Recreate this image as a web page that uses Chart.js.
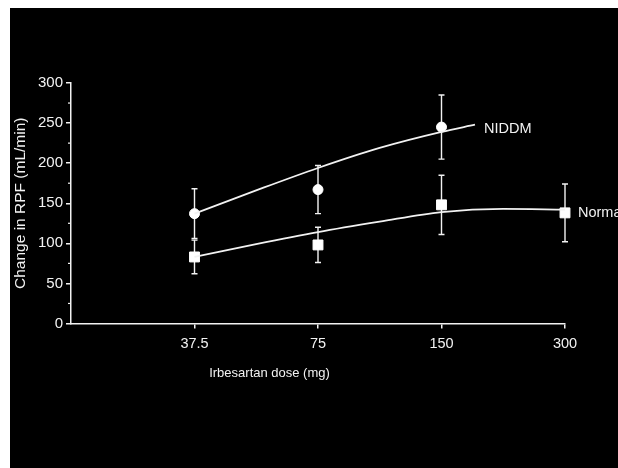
<!DOCTYPE html>
<html>
<head>
<meta charset="utf-8">
<script src="https://cdn.jsdelivr.net/npm/chart.js@4/dist/chart.umd.min.js"></script>
<style>
  html, body { margin: 0; padding: 0; background: #fff; }
  #frame { position: absolute; left: 10px; top: 8px; width: 608px; height: 460px; background: #000; }
</style>
</head>
<body>
<div id="frame"><canvas id="c" width="608" height="460"></canvas></div>
<script>
// Irbesartan dose (mg) on the x axis, change in RPF (mL/min) on the y axis
const doses = [37.5, 75, 150, 300];
const yTicks = [0, 50, 100, 150, 200, 250, 300];

// measured means and error bars
const niddmDose = [37.5, 75, 150];
const niddmMean = [137, 167, 245];
const niddmErr = [31, 30, 40];
const normalDose = [37.5, 75, 150, 300];
const normalMean = [83, 98, 148, 138];
const normalErr = [21, 22, 37, 36];

// fitted curves
const niddmFitX = [37.5, 53, 75, 106, 150, 181];
const niddmFitY = [137, 166, 194, 219, 239, 248];
const normalFitX = [37.5, 53, 75, 106, 150, 212, 300];
const normalFitY = [83, 99, 114, 127, 139, 143, 142];

const fg = '#f2f2f2';
const font = "'Liberation Sans', Arial, Helvetica, sans-serif";

const pts = (xs, ys) => xs.map((x, i) => ({ x: x, y: ys[i] }));

// error bars under the markers
const errorBars = {
    id: 'errorBars',
    beforeDatasetsDraw(chart) {
        const { ctx, scales: { x, y } } = chart;
        ctx.save();
        ctx.strokeStyle = fg;
        ctx.lineWidth = 1.4;
        [[niddmDose, niddmMean, niddmErr], [normalDose, normalMean, normalErr]].forEach(([ds, ms, es]) => {
            ds.forEach((d, i) => {
                const px = x.getPixelForValue(d);
                const top = y.getPixelForValue(ms[i] + es[i]);
                const bot = y.getPixelForValue(ms[i] - es[i]);
                ctx.beginPath();
                ctx.moveTo(px, top); ctx.lineTo(px, bot);
                ctx.moveTo(px - 3, top); ctx.lineTo(px + 3, top);
                ctx.moveTo(px - 3, bot); ctx.lineTo(px + 3, bot);
                ctx.stroke();
            });
        });
        ctx.restore();
    }
};

// minor y ticks, series labels and the x title
const extras = {
    id: 'extras',
    afterDraw(chart) {
        const { ctx, scales: { x, y } } = chart;
        ctx.save();
        ctx.strokeStyle = fg;
        ctx.lineWidth = 1.2;
        for (let v = 25; v < 300; v += 50) {
            const py = y.getPixelForValue(v);
            ctx.beginPath();
            ctx.moveTo(y.right, py); ctx.lineTo(y.right - 3, py);
            ctx.stroke();
        }
        ctx.fillStyle = fg;
        ctx.textBaseline = 'middle';
        ctx.font = '14.5px ' + font;
        ctx.textAlign = 'left';
        ctx.fillText('NIDDM', x.getPixelForValue(niddmFitX[niddmFitX.length - 1]) + 9,
            y.getPixelForValue(niddmFitY[niddmFitY.length - 1]) + 4);
        ctx.fillText('Normal', x.getPixelForValue(300) + 13, y.getPixelForValue(normalMean[3]));
        ctx.font = '13px ' + font;
        ctx.textAlign = 'center';
        ctx.fillText('Irbesartan dose (mg)', 259.5, 365);
        ctx.restore();
    }
};

new Chart(document.getElementById('c'), {
    type: 'line',
    data: {
        datasets: [
            { label: 'NIDDM fit', data: pts(niddmFitX, niddmFitY), borderColor: fg, borderWidth: 1.8, pointRadius: 0, cubicInterpolationMode: 'monotone' },
            { label: 'Normal fit', data: pts(normalFitX, normalFitY), borderColor: fg, borderWidth: 1.8, pointRadius: 0, cubicInterpolationMode: 'monotone' },
            { label: 'NIDDM', data: pts(niddmDose, niddmMean), showLine: false, pointStyle: 'circle', pointRadius: 5, backgroundColor: '#fff', borderColor: '#fff', borderWidth: 1 },
            { label: 'Normal', data: pts(normalDose, normalMean), showLine: false, pointStyle: 'rect', pointRadius: 7, backgroundColor: '#fff', borderColor: '#fff', borderWidth: 1 },
        ]
    },
    options: {
        responsive: false,
        animation: false,
        clip: false,
        layout: { padding: { left: 0, top: 75, right: 53, bottom: 0 } },
        plugins: { legend: { display: false }, tooltip: { enabled: false } },
        scales: {
            x: {
                type: 'logarithmic',
                min: 18.75, max: 300,
                afterBuildTicks: s => { s.ticks = doses.map(v => ({ value: v })); },
                afterFit: s => { s.height = 144.5; },
                ticks: { color: fg, font: { family: font, size: 14.5 }, padding: 7, autoSkip: false, maxRotation: 0, callback: v => String(v) },
                grid: { drawOnChartArea: false, color: fg, tickLength: 5, lineWidth: 1.5 },
                border: { color: fg, width: 1.5 }
            },
            y: {
                min: 0, max: 300,
                afterBuildTicks: s => { s.ticks = yTicks.map(v => ({ value: v })); },
                afterFit: s => { s.width = 61; },
                ticks: { color: fg, font: { family: font, size: 15 }, padding: 3 },
                grid: { drawOnChartArea: false, color: fg, tickLength: 5, lineWidth: 1.5 },
                border: { color: fg, width: 1.5 },
                title: { display: true, text: 'Change in RPF (mL/min)', color: fg, font: { family: font, size: 15.5 }, padding: { top: 1, bottom: 0 } }
            }
        }
    },
    plugins: [errorBars, extras]
});
</script>
</body>
</html>
